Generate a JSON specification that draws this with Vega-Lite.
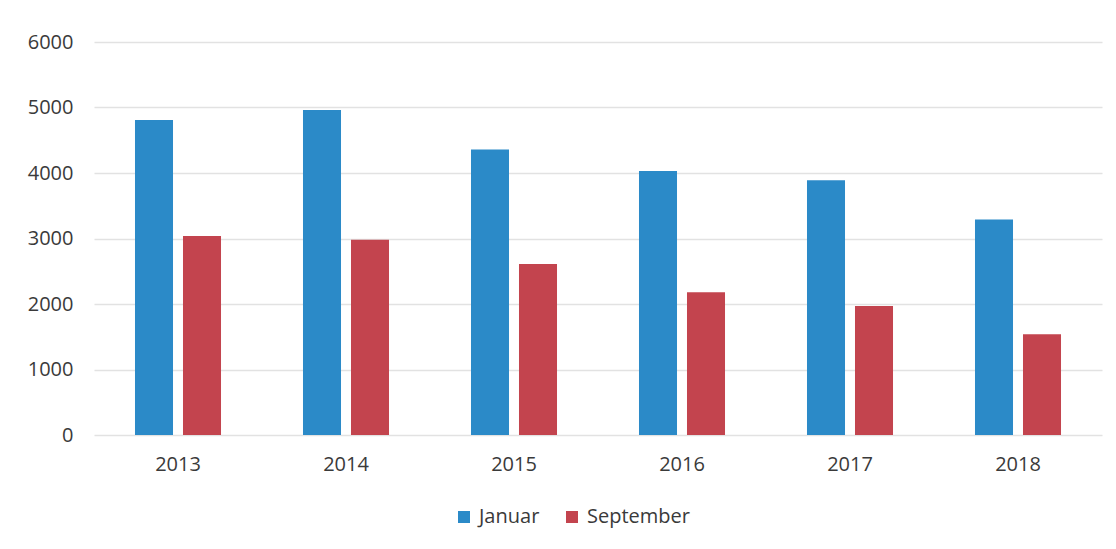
{
  "$schema": "https://vega.github.io/schema/vega-lite/v6.json",
  "width": 1008,
  "height": 393,
  "autosize": {"type": "none"},
  "padding": {"left": 94, "top": 42, "right": 14, "bottom": 114},
  "background": "#ffffff",
  "data": {
    "values": [
      {"Jahr": "2013", "Monat": "Januar", "Wert": 4810},
      {"Jahr": "2013", "Monat": "September", "Wert": 3040},
      {"Jahr": "2014", "Monat": "Januar", "Wert": 4960},
      {"Jahr": "2014", "Monat": "September", "Wert": 2980},
      {"Jahr": "2015", "Monat": "Januar", "Wert": 4360},
      {"Jahr": "2015", "Monat": "September", "Wert": 2610},
      {"Jahr": "2016", "Monat": "Januar", "Wert": 4030},
      {"Jahr": "2016", "Monat": "September", "Wert": 2180},
      {"Jahr": "2017", "Monat": "Januar", "Wert": 3890},
      {"Jahr": "2017", "Monat": "September", "Wert": 1970},
      {"Jahr": "2018", "Monat": "Januar", "Wert": 3290},
      {"Jahr": "2018", "Monat": "September", "Wert": 1540}
    ]
  },
  "config": {
    "view": {"stroke": null},
    "font": "Open Sans"
  },
  "mark": {"type": "bar"},
  "encoding": {
    "x": {
      "field": "Jahr",
      "type": "nominal",
      "scale": {"paddingInner": 0, "paddingOuter": 0},
      "axis": {
        "title": null,
        "labelAngle": 0,
        "labelFontSize": 20,
        "labelColor": "#3a3a3a",
        "labelPadding": 19,
        "ticks": false,
        "domain": false,
        "grid": false
      }
    },
    "xOffset": {
      "field": "Monat",
      "type": "nominal",
      "scale": {"paddingInner": 0.208, "paddingOuter": 0.854}
    },
    "y": {
      "field": "Wert",
      "type": "quantitative",
      "scale": {"domain": [0, 6000], "nice": false},
      "axis": {
        "title": null,
        "values": [0, 1000, 2000, 3000, 4000, 5000, 6000],
        "format": "d",
        "labelFontSize": 20,
        "labelColor": "#3a3a3a",
        "labelPadding": 21,
        "ticks": false,
        "domain": false,
        "gridColor": "#e2e2e2",
        "gridWidth": 1.5
      }
    },
    "color": {
      "field": "Monat",
      "type": "nominal",
      "scale": {"domain": ["Januar", "September"], "range": ["#2b8ac8", "#c3444e"]},
      "legend": {
        "title": null,
        "orient": "none",
        "direction": "horizontal",
        "legendX": 360,
        "legendY": 465,
        "symbolType": "square",
        "symbolSize": 144,
        "symbolStrokeWidth": 0,
        "labelFontSize": 20,
        "labelColor": "#3a3a3a",
        "labelOffset": 5,
        "columnPadding": 22
      }
    }
  }
}
